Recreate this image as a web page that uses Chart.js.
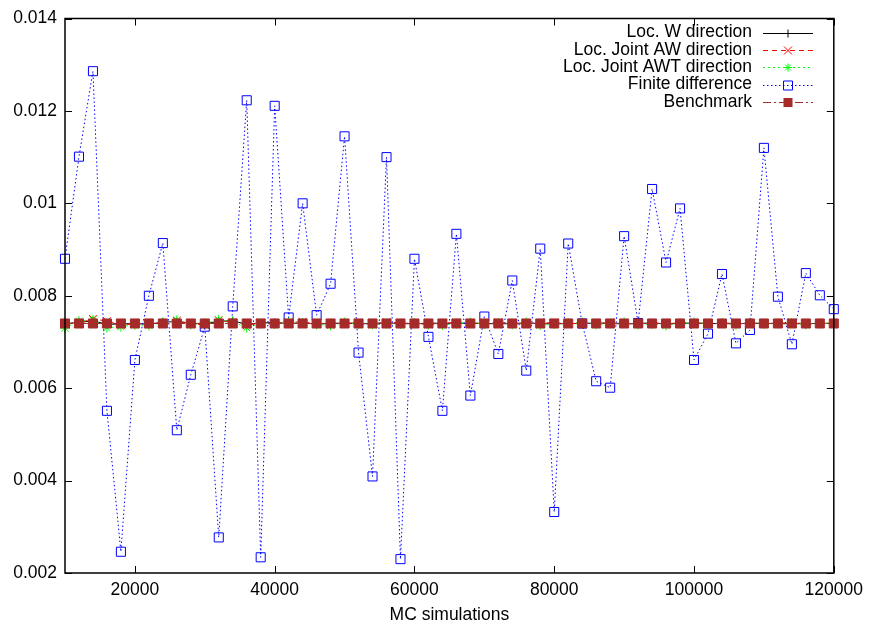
<!DOCTYPE html>
<html>
<head>
<meta charset="utf-8">
<script src="https://cdn.jsdelivr.net/npm/chart.js@4.4.1/dist/chart.umd.min.js"></script>
<style>
  html, body { margin: 0; padding: 0; background: #fff; }
  #wrap { width: 870px; height: 630px; }
</style>
</head>
<body>
<div id="wrap"><canvas id="Chart" width="870" height="630"></canvas></div>
<script>
// MC simulation counts (x axis)
const simulations = [
  10000, 12000, 14000, 16000, 18000, 20000, 22000, 24000, 26000, 28000,
  30000, 32000, 34000, 36000, 38000, 40000, 42000, 44000, 46000, 48000,
  50000, 52000, 54000, 56000, 58000, 60000, 62000, 64000, 66000, 68000,
  70000, 72000, 74000, 76000, 78000, 80000, 82000, 84000, 86000, 88000,
  90000, 92000, 94000, 96000, 98000, 100000, 102000, 104000, 106000, 108000,
  110000, 112000, 114000, 116000, 118000, 120000
];

const locW = [
  0.00740, 0.00742, 0.00746, 0.00738, 0.00739, 0.00740, 0.00738, 0.00743, 0.00744, 0.00741,
  0.00739, 0.00745, 0.00746, 0.00738, 0.00741, 0.00742, 0.00740, 0.00741, 0.00739, 0.00740,
  0.00741, 0.00739, 0.00740, 0.00741, 0.00740, 0.00739, 0.00741, 0.00740, 0.00740, 0.00741,
  0.00740, 0.00739, 0.00740, 0.00741, 0.00740, 0.00739, 0.00740, 0.00740, 0.00741, 0.00740,
  0.00739, 0.00740, 0.00741, 0.00739, 0.00740, 0.00741, 0.00740, 0.00740, 0.00739, 0.00741,
  0.00740, 0.00740, 0.00739, 0.00740, 0.00740, 0.00740
];

const locJointAW = [
  0.00738, 0.00741, 0.00750, 0.00745, 0.00737, 0.00739, 0.00740, 0.00741, 0.00746, 0.00739,
  0.00737, 0.00747, 0.00742, 0.00736, 0.00742, 0.00740, 0.00742, 0.00744, 0.00739, 0.00741,
  0.00740, 0.00742, 0.00739, 0.00743, 0.00741, 0.00740, 0.00738, 0.00741, 0.00742, 0.00739,
  0.00741, 0.00743, 0.00739, 0.00740, 0.00741, 0.00742, 0.00739, 0.00741, 0.00740, 0.00742,
  0.00740, 0.00739, 0.00741, 0.00740, 0.00741, 0.00742, 0.00739, 0.00741, 0.00740, 0.00739,
  0.00741, 0.00740, 0.00742, 0.00739, 0.00740, 0.00741
];

const locJointAWT = [
  0.00730, 0.00745, 0.00748, 0.00731, 0.00733, 0.00737, 0.00736, 0.00742, 0.00747, 0.00738,
  0.00740, 0.00748, 0.00744, 0.00731, 0.00740, 0.00739, 0.00743, 0.00741, 0.00738, 0.00736,
  0.00742, 0.00739, 0.00738, 0.00740, 0.00739, 0.00741, 0.00738, 0.00737, 0.00740, 0.00742,
  0.00739, 0.00741, 0.00738, 0.00742, 0.00737, 0.00739, 0.00741, 0.00742, 0.00738, 0.00740,
  0.00742, 0.00738, 0.00739, 0.00736, 0.00740, 0.00742, 0.00739, 0.00741, 0.00738, 0.00742,
  0.00739, 0.00740, 0.00741, 0.00738, 0.00740, 0.00741
];

const finiteDiff = [
  0.00880, 0.01101, 0.01286, 0.00551, 0.00246, 0.00661, 0.00800, 0.00914, 0.00509, 0.00629,
  0.00733, 0.00277, 0.00777, 0.01223, 0.00234, 0.01211, 0.00753, 0.01000, 0.00758, 0.00826,
  0.01145, 0.00677, 0.00409, 0.01100, 0.00230, 0.00880, 0.00711, 0.00551, 0.00934, 0.00584,
  0.00755, 0.00674, 0.00833, 0.00638, 0.00902, 0.00332, 0.00913, 0.00740, 0.00615, 0.00601,
  0.00929, 0.00741, 0.01031, 0.00872, 0.00989, 0.00661, 0.00718, 0.00847, 0.00697, 0.00726,
  0.01120, 0.00798, 0.00695, 0.00849, 0.00801, 0.00771
];

const benchmark = [
  0.0074, 0.0074, 0.0074, 0.0074, 0.0074, 0.0074, 0.0074, 0.0074, 0.0074, 0.0074,
  0.0074, 0.0074, 0.0074, 0.0074, 0.0074, 0.0074, 0.0074, 0.0074, 0.0074, 0.0074,
  0.0074, 0.0074, 0.0074, 0.0074, 0.0074, 0.0074, 0.0074, 0.0074, 0.0074, 0.0074,
  0.0074, 0.0074, 0.0074, 0.0074, 0.0074, 0.0074, 0.0074, 0.0074, 0.0074, 0.0074,
  0.0074, 0.0074, 0.0074, 0.0074, 0.0074, 0.0074, 0.0074, 0.0074, 0.0074, 0.0074,
  0.0074, 0.0074, 0.0074, 0.0074, 0.0074, 0.0074
];

const xTicks = [20000, 40000, 60000, 80000, 100000, 120000];
const yTicks = [0.002, 0.004, 0.006, 0.008, 0.01, 0.012, 0.014];

function pairs(ys) {
  return simulations.map((x, i) => ({ x: x, y: ys[i] }));
}

const FONT = '"Liberation Sans", Arial, Helvetica, sans-serif';
Chart.defaults.font.family = FONT;
Chart.defaults.font.size = 17.5;
Chart.defaults.color = '#000';

// gnuplot style marker, used for the key
function drawMarker(ctx, style, x, y, color) {
  ctx.save();
  ctx.strokeStyle = color;
  ctx.fillStyle = color;
  ctx.lineWidth = 1;
  ctx.setLineDash([]);
  ctx.beginPath();
  if (style === 'cross') {
    ctx.moveTo(x - 4, y); ctx.lineTo(x + 4, y);
    ctx.moveTo(x, y - 4); ctx.lineTo(x, y + 4);
    ctx.stroke();
  } else if (style === 'crossRot') {
    ctx.moveTo(x - 4, y - 4); ctx.lineTo(x + 4, y + 4);
    ctx.moveTo(x - 4, y + 4); ctx.lineTo(x + 4, y - 4);
    ctx.stroke();
  } else if (style === 'star') {
    ctx.moveTo(x - 4, y); ctx.lineTo(x + 4, y);
    ctx.moveTo(x, y - 4); ctx.lineTo(x, y + 4);
    ctx.moveTo(x - 3, y - 3); ctx.lineTo(x + 3, y + 3);
    ctx.moveTo(x - 3, y + 3); ctx.lineTo(x + 3, y - 3);
    ctx.stroke();
  } else if (style === 'rect') {
    ctx.rect(x - 4.5, y - 4.5, 9, 9);
    ctx.stroke();
  } else if (style === 'rectFill') {
    ctx.fillRect(x - 4.5, y - 4.5, 9, 9);
  }
  ctx.restore();
}

const framePlugin = {
  id: 'frame',
  afterDraw(chart) {
    const ctx = chart.ctx;
    const a = chart.chartArea;
    const xs = chart.scales.x, ys = chart.scales.y;
    ctx.save();
    ctx.strokeStyle = '#000';
    ctx.lineWidth = 1.5;
    ctx.setLineDash([]);
    ctx.strokeRect(a.left, a.top, a.right - a.left, a.bottom - a.top);
    ctx.lineWidth = 1;
    ctx.beginPath();
    xTicks.forEach(v => {
      const px = Math.round(xs.getPixelForValue(v)) + 0.5;
      ctx.moveTo(px, a.bottom); ctx.lineTo(px, a.bottom - 7);
      ctx.moveTo(px, a.top); ctx.lineTo(px, a.top + 7);
    });
    yTicks.forEach(v => {
      const py = Math.round(ys.getPixelForValue(v)) + 0.5;
      ctx.moveTo(a.left, py); ctx.lineTo(a.left + 7, py);
      ctx.moveTo(a.right, py); ctx.lineTo(a.right - 7, py);
    });
    ctx.stroke();

    // key, top right
    ctx.font = '17.5px ' + FONT;
    ctx.textAlign = 'right';
    ctx.textBaseline = 'middle';
    chart.data.datasets.forEach((ds, i) => {
      const y = 32.5 + i * 17.35;
      ctx.fillStyle = '#000';
      ctx.fillText(ds.label, 752, y);
      ctx.strokeStyle = ds.borderColor;
      ctx.lineWidth = 1;
      ctx.setLineDash(ds.borderDash || []);
      ctx.beginPath();
      ctx.moveTo(763, Math.round(y) + 0.5);
      ctx.lineTo(813, Math.round(y) + 0.5);
      ctx.stroke();
      drawMarker(ctx, ds.keyMarker, 788, Math.round(y) + 0.5, ds.borderColor);
    });
    ctx.restore();
  }
};

const ctx = document.getElementById('Chart').getContext('2d');
const myChart = new Chart(ctx, {
  type: 'line',
  data: {
    datasets: [
      {
        label: 'Loc. W direction',
        data: pairs(locW),
        borderColor: '#000000',
        backgroundColor: '#000000',
        borderWidth: 1,
        borderDash: [],
        pointStyle: 'cross',
        pointRadius: 4,
        keyMarker: 'cross',
        clip: 10,
        order: 5
      },
      {
        label: 'Loc. Joint AW direction',
        data: pairs(locJointAW),
        borderColor: '#ff0000',
        backgroundColor: '#ff0000',
        borderWidth: 1,
        borderDash: [5, 4],
        pointStyle: 'crossRot',
        pointRadius: 5.5,
        keyMarker: 'crossRot',
        clip: 10,
        order: 4
      },
      {
        label: 'Loc. Joint AWT direction',
        data: pairs(locJointAWT),
        borderColor: '#00ff00',
        backgroundColor: '#00ff00',
        borderWidth: 1,
        borderDash: [2, 3],
        pointStyle: 'star',
        pointRadius: 5,
        keyMarker: 'star',
        clip: 10,
        order: 3
      },
      {
        label: 'Finite difference',
        data: pairs(finiteDiff),
        borderColor: '#0000ff',
        backgroundColor: 'rgba(0,0,0,0)',
        borderWidth: 1,
        borderDash: [1.5, 2.5],
        pointStyle: 'rect',
        pointRadius: 6.4,
        keyMarker: 'rect',
        clip: 10,
        order: 2
      },
      {
        label: 'Benchmark',
        data: pairs(benchmark),
        borderColor: '#a52a2a',
        backgroundColor: '#a52a2a',
        borderWidth: 1,
        borderDash: [8, 3, 2, 3],
        pointStyle: 'rect',
        pointRadius: 6.4,
        keyMarker: 'rectFill',
        clip: 10,
        order: 1
      }
    ]
  },
  options: {
    responsive: false,
    devicePixelRatio: 1,
    animation: false,
    layout: { padding: { top: 15, right: 36, left: 0, bottom: 0 } },
    elements: {
      line: { tension: 0, fill: false },
      point: { borderWidth: 1, hoverRadius: 6 }
    },
    scales: {
      x: {
        type: 'linear',
        min: 10000,
        max: 120000,
        grid: { display: false, drawTicks: false },
        border: { display: false },
        afterBuildTicks: (scale) => { scale.ticks = xTicks.map(v => ({ value: v })); },
        afterFit: (scale) => { scale.height = 57; },
        ticks: {
          padding: 7,
          maxRotation: 0,
          callback: (v) => String(v)
        },
        title: {
          display: true,
          text: 'MC simulations',
          padding: { top: 4, bottom: 4 },
          font: { size: 17.5 }
        }
      },
      y: {
        type: 'linear',
        min: 0.002,
        max: 0.014,
        grid: { display: false, drawTicks: false },
        border: { display: false },
        afterBuildTicks: (scale) => { scale.ticks = yTicks.map(v => ({ value: v })); },
        afterFit: (scale) => { scale.width = 65; },
        ticks: {
          padding: 8,
          callback: (v) => String(+Number(v).toFixed(3))
        }
      }
    },
    plugins: {
      legend: { display: false },
      tooltip: { enabled: false }
    }
  },
  plugins: [framePlugin]
});
</script>
</body>
</html>
